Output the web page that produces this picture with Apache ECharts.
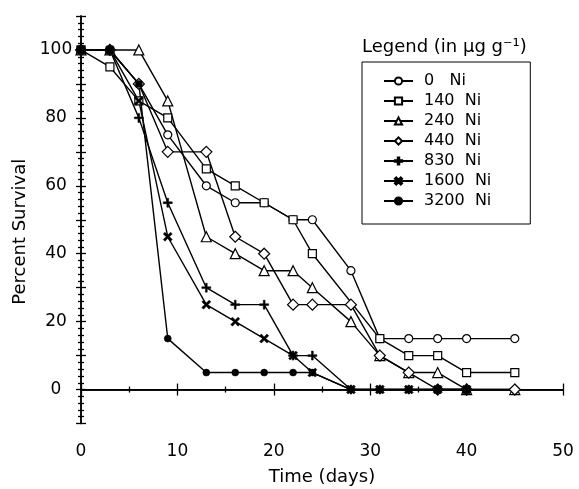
<!DOCTYPE html>
<html><head><meta charset="utf-8">
<script src="https://cdn.jsdelivr.net/npm/echarts@6/dist/echarts.min.js"></script>
<style>html,body{margin:0;padding:0;background:#fff}#c{width:579px;height:489px}</style>
</head><body><div id="c"></div>
<script>
// Observation days
const days = [0, 3, 6, 9, 13, 16, 19, 22, 24, 28, 31, 34, 37, 40, 45];
// Percent survival per Ni treatment (null = not observed / hidden)
const ni0    = [100, 100, 90, 75, 60, 55, 55, 50, 50, 35, 15, 15, 15, 15, 15];
const ni140  = [100, 95, 85, 80, 65, 60, 55, 50, 40, null, 15, 10, 10, 5, 5];
const ni240  = [100, 100, 100, 85, 45, 40, 35, 35, 30, 20, 10, 5, 5, 0, 0];
const ni440  = [100, 100, 90, 70, 70, 45, 40, 25, 25, 25, 10, 5, 0, 0, 0];
const ni830  = [100, 100, 80, 55, 30, 25, 25, 10, 10, 0, 0, 0, 0, 0, null];
const ni1600 = [100, 100, 85, 45, 25, 20, 15, 10, 5, 0, 0, 0, 0, 0, null];
const ni3200 = [100, 100, 90, 15, 5, 5, 5, 5, 5, 0, 0, 0, 0, 0, null];
const seriesNames = ['0   Ni', '140  Ni', '240  Ni', '440  Ni', '830  Ni', '1600  Ni', '3200  Ni'];
const yTickLabels = [0, 20, 40, 60, 80, 100];
const xTickLabels = [0, 10, 20, 30, 40, 50];

const PLUS = 'path://M3.2,0H4.8V3.2H8V4.8H4.8V8H3.2V4.8H0V3.2H3.2Z';
const CROSS = 'path://M0,1.5L1.5,0L4,2.5L6.5,0L8,1.5L5.5,4L8,6.5L6.5,8L4,5.5L1.5,8L0,6.5L2.5,4Z';

const styles = [
  {symbol: 'circle', size: 8, fill: '#fff'},
  {symbol: 'rect', size: 8, fill: '#fff'},
  {symbol: 'triangle', size: 10, fill: '#fff'},
  {symbol: 'diamond', size: 11, fill: '#fff'},
  {symbol: PLUS, size: 9, fill: '#000'},
  {symbol: CROSS, size: 9, fill: '#000'},
  {symbol: 'circle', size: 7, fill: '#000'}
];
const values = [ni0, ni140, ni240, ni440, ni830, ni1600, ni3200];

const series = values.map((vals, i) => {
  const st = styles[i];
  const data = [];
  vals.forEach((v, j) => { if (v !== null) data.push([days[j], v]); });
  const s = {
    name: seriesNames[i],
    type: 'line',
    data: data,
    symbol: st.symbol,
    symbolSize: st.size,
    showAllSymbol: true,
    connectNulls: true,
    lineStyle: {color: '#000', width: 1.4},
    itemStyle: {color: st.fill, borderColor: '#000', borderWidth: st.fill === '#fff' ? 1.2 : 0.5},
    emphasis: {disabled: true},
    z: 3
  };
  if (i === 0) {
    s.markLine = {
      silent: true, symbol: 'none', label: {show: false},
      lineStyle: {color: '#000', width: 1, type: 'solid'},
      data: [{yAxis: 0}], z: 1
    };
  }
  return s;
});

const font = 'DejaVu Sans';
const axisLineStyle = {show: true, lineStyle: {color: '#000', width: 1.5}};

const option = {
  animation: false,
  backgroundColor: '#fff',
  title: {
    text: 'Legend (in µg g⁻¹)', left: 362, top: 38, padding: 0,
    textStyle: {fontFamily: font, fontSize: 18, fontWeight: 'normal', color: '#000'}
  },
  legend: {
    orient: 'vertical', left: 362, top: 62,
    padding: [11, 39, 15, 21],
    itemWidth: 29, itemHeight: 9, itemGap: 4,
    borderColor: '#000', borderWidth: 1,
    textStyle: {fontFamily: font, fontSize: 16, color: '#000', padding: [0, 0, 0, 6]},
    data: seriesNames
  },
  grid: {left: 81, right: 16, top: 16, bottom: 65.5, outerBoundsMode: 'none', containLabel: false},
  xAxis: [{
    type: 'value', min: 0, max: 50, interval: 10, position: 'bottom',
    name: 'Time (days)', nameLocation: 'middle', nameGap: 45,
    nameTextStyle: {fontFamily: font, fontSize: 18, color: '#000'},
    axisLine: axisLineStyle,
    axisTick: {show: true, length: 6, lineStyle: {color: '#000', width: 1.3}},
    minorTick: {show: true, splitNumber: 2, length: 3, lineStyle: {color: '#000', width: 1.3}},
    axisLabel: {fontFamily: font, fontSize: 17, color: '#000', margin: 20,
      formatter: v => xTickLabels.includes(v) ? String(v) : ''},
    splitLine: {show: false}
  }, {
    type: 'value', min: 0, max: 50, interval: 10, position: 'top',
    axisLine: axisLineStyle,
    axisTick: {show: true, length: 6, lineStyle: {color: '#000', width: 1.3}},
    minorTick: {show: true, splitNumber: 2, length: 3, lineStyle: {color: '#000', width: 1.3}},
    axisLabel: {show: false}, splitLine: {show: false}
  }],
  yAxis: [{
    type: 'value', min: -10, max: 110, interval: 10, position: 'left',
    name: 'Percent Survival', nameLocation: 'middle', nameGap: 48,
    nameTextStyle: {fontFamily: font, fontSize: 18, color: '#000', padding: [0, 24, 0, 0]},
    axisLine: axisLineStyle,
    axisTick: {show: true, length: 5, lineStyle: {color: '#000', width: 1.3}},
    minorTick: {show: true, splitNumber: 5, length: 3, lineStyle: {color: '#000', width: 1.3}},
    axisLabel: {fontFamily: font, fontSize: 17, color: '#000', margin: 25, align: 'center',
      formatter: v => yTickLabels.includes(v) ? String(v) : ''},
    splitLine: {show: false}
  }, {
    type: 'value', min: -10, max: 110, interval: 10, position: 'right',
    axisLine: axisLineStyle,
    axisTick: {show: true, length: 5, lineStyle: {color: '#000', width: 1.3}},
    minorTick: {show: true, splitNumber: 5, length: 3, lineStyle: {color: '#000', width: 1.3}},
    axisLabel: {show: false}, splitLine: {show: false}
  }],
  series: series
};

const chart = echarts.init(document.getElementById('c'), null, {renderer: 'canvas'});
chart.setOption(option);
</script>
</body></html>
